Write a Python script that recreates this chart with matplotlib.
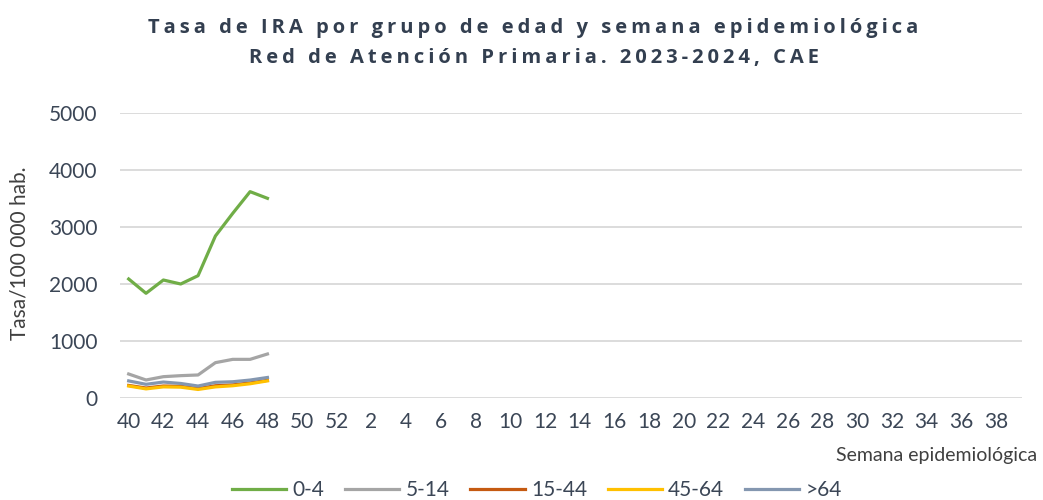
import matplotlib
matplotlib.use('Agg')
import matplotlib.pyplot as plt
import numpy as np

# weeks 40..52 then 1..39
weeks = list(range(40, 53)) + list(range(1, 40))
week_labels = [str(w) if w % 2 == 0 else '' for w in weeks]

edad_0_4 = [2088, 1837, 2070, 2000, 2146, 2842, 3240, 3620, 3503]
edad_5_14 = [421, 316, 374, 392, 404, 620, 678, 678, 772]
edad_15_44 = [220, 175, 210, 205, 165, 215, 230, 265, 310]
edad_45_64 = [210, 160, 195, 190, 150, 195, 215, 250, 300]
edad_64 = [300, 240, 280, 255, 210, 275, 285, 315, 360]

series = [('0-4', edad_0_4, '#70AD47'),
          ('5-14', edad_5_14, '#A5A5A5'),
          ('15-44', edad_15_44, '#C55A11'),
          ('45-64', edad_45_64, '#FFC000'),
          ('>64', edad_64, '#8497B0')]

txt = '#3B4656'
plt.rcParams['font.family'] = ['Lato', 'DejaVu Sans']


def spaced(s):
    # Excel title has wide letter spacing
    return '\u2009'.join(s)


fig = plt.figure(figsize=(10.43, 5), dpi=100)
ax = fig.add_axes([120/1043, 1-398/500, (1022-120)/1043, (398-113)/500])

x = np.arange(len(weeks))
for name, vals, col in series:
    ax.plot(x[:len(vals)], vals, color=col, lw=2.3, label=name)

ax.set_xlim(-0.5, len(weeks) - 0.5)
ax.set_ylim(0, 5000)
ax.set_yticks(range(0, 5001, 1000))
ax.set_xticks(x)
ax.set_xticklabels(week_labels, fontsize=15, color=txt)
ax.tick_params(axis='y', labelsize=15, labelcolor=txt, length=0, pad=16)
ax.tick_params(axis='x', length=0, pad=10)
ax.grid(axis='y', color='#D9D9D9', lw=1.3)
ax.set_axisbelow(True)
for s in ax.spines.values():
    s.set_visible(False)

fig.text(20/1043, 1-253/500, 'Tasa/100 000 hab.', rotation=90, ha='center',
         va='center', fontsize=15, color='#404040')
fig.text(1037/1043, 1-455/500, 'Semana epidemiológica', ha='right',
         va='center', fontsize=14, color='#404040')

fig.text(533/1043, 1-28/500, spaced('Tasa de IRA por grupo de edad y semana epidemiológica'),
         ha='center', va='center', fontsize=14.5, fontweight='bold', color='#333F50',
         family=['Open Sans', 'DejaVu Sans'])
fig.text(534/1043, 1-58/500, spaced('Red de Atención Primaria. 2023-2024, CAE'),
         ha='center', va='center', fontsize=14.5, fontweight='bold', color='#333F50',
         family=['Open Sans', 'DejaVu Sans'])

fig.legend(loc='center', bbox_to_anchor=(537/1043, 1-490/500), ncol=5,
           frameon=False, fontsize=15, handlelength=2.6, columnspacing=1.0,
           handletextpad=0.3, labelcolor=txt)

fig.savefig('out.png', dpi=100)
